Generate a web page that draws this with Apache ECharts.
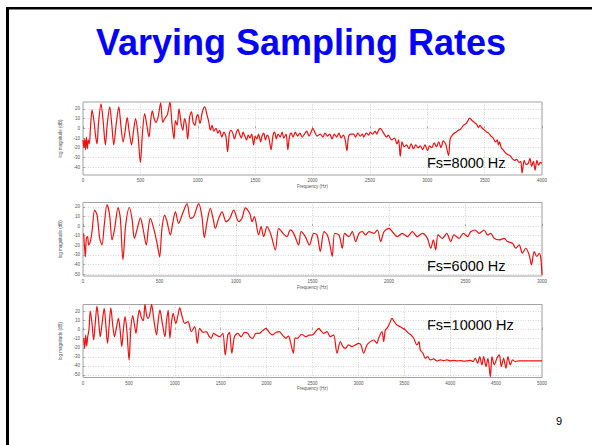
<!DOCTYPE html>
<html>
<head>
<meta charset="utf-8">
<script src="https://cdn.jsdelivr.net/npm/echarts@6/dist/echarts.min.js"></script>
<style>
html,body{margin:0;padding:0;background:#fff;}
#chart{width:592px;height:445px;}
</style>
</head>
<body>
<div id="chart"></div>
<script>
// ---- data: [frequency Hz, log magnitude dB] ----
var spec8000 = [[0,-12],[8,-20],[15,-11],[22,-22],[30,-9],[38,-21],[46,-12],[55,-16],[65,0],[79,19],[95,8],[110,-8],[122,-16],[135,5],[157,25],[175,8],[195,-17],[212,5],[233,22],[250,5],[268,-17],[290,5],[312,22],[330,3],[350,-14],[368,-2],[385,11],[402,-3],[423,-17],[440,-3],[458,10],[478,-5],[500,-35],[518,-5],[537,15],[555,4],[575,-9],[590,8],[604,18],[620,10],[636,6],[655,12],[677,26],[695,6],[712,10],[735,14],[758,27],[775,5],[793,-11],[805,8],[820,3],[837,20],[855,5],[870,-2],[885,10],[900,3],[912,-11],[930,12],[945,17],[960,6],[975,3],[990,12],[1000,14],[1020,5],[1040,17],[1061,22],[1080,14],[1095,7],[1110,-2],[1125,3],[1140,-3],[1160,0],[1175,-5],[1190,-2],[1210,-9],[1228,-4],[1245,-8],[1260,-24],[1275,-6],[1290,-2],[1305,-5],[1320,-11],[1335,-5],[1350,-1],[1365,-6],[1380,-10],[1395,-4],[1410,-8],[1425,-12],[1440,-7],[1455,-10],[1470,-6],[1487,-17],[1500,-8],[1515,-11],[1530,-6],[1548,-14],[1560,-8],[1575,-5],[1590,-12],[1605,-7],[1620,-10],[1639,-22],[1655,-8],[1670,-4],[1685,-11],[1700,-6],[1718,-9],[1735,-4],[1750,-10],[1770,-6],[1785,-22],[1800,-8],[1815,-5],[1830,-9],[1850,-4],[1870,-8],[1890,-5],[1910,-9],[1930,-6],[1950,-3],[1970,-8],[1990,-3],[2003,0],[2020,-4],[2040,-8],[2068,-6],[2090,-9],[2110,-5],[2130,-8],[2150,-6],[2170,-11],[2190,-6],[2210,-9],[2230,-5],[2250,-10],[2268,-7],[2285,-12],[2300,-23],[2315,-8],[2335,-6],[2358,-6],[2375,-9],[2395,-5],[2415,-8],[2435,-6],[2446,-9],[2470,-5],[2490,-7],[2504,-4],[2525,-6],[2545,-3],[2560,-6],[2575,-2],[2591,0],[2605,-2],[2620,-5],[2645,-9],[2660,-7],[2690,-12],[2715,-10],[2736,-16],[2750,-12],[2765,-29],[2780,-14],[2800,-19],[2820,-17],[2840,-21],[2860,-16],[2880,-21],[2900,-17],[2920,-20],[2940,-18],[2960,-22],[2980,-17],[3003,-23],[3020,-18],[3040,-20],[3060,-15],[3080,-19],[3100,-14],[3120,-20],[3140,-13],[3160,-16],[3186,-28],[3200,-11],[3225,-6],[3250,-4],[3270,-2],[3290,-1],[3315,3],[3340,5],[3355,8],[3370,10.5],[3390,8],[3410,6],[3430,4],[3445,1],[3460,3],[3480,0],[3500,-2],[3520,-4],[3535,-5],[3555,-8],[3575,-10],[3595,-14],[3610,-12],[3620,-17],[3630,-14],[3645,-20],[3660,-22],[3680,-25],[3700,-27],[3720,-28],[3740,-31],[3760,-33],[3780,-32],[3800,-35],[3815,-34],[3826,-46],[3845,-33],[3860,-37],[3880,-36],[3895,-31],[3910,-39],[3925,-34],[3940,-43],[3955,-33],[3970,-38],[3985,-35],[4000,-36]];

var spec6000 = [[4,-7.6],[9,-19.7],[15,-32],[22,-12.8],[30,-11],[37,-19.7],[48,-16],[59,-5.9],[76,16.5],[92,11.4],[109,-12.8],[124,-19.7],[139,1],[157,22.4],[174,11.4],[190,-14.5],[207,-2.4],[229,19.3],[244,8],[261,-35],[279,1],[303,19.3],[320,8],[336,-12.8],[355,-2.4],[375,8.6],[392,-2.4],[414,-19.7],[427,-2.4],[440,8],[462,-2.4],[484,-18],[501,-32],[516,-2.4],[534,11.4],[549,4.5],[571,-9.3],[586,2.8],[604,14.8],[625,2.8],[651,13.1],[680,23.4],[702,8],[723,9.7],[756,23.4],[776,11.4],[793,-12],[811,4.5],[832,18.3],[850,8],[865,-2.4],[887,8],[909,14.8],[935,4.5],[959,8],[985,16.5],[1018,4.5],[1039,8],[1061,19],[1090,13],[1105,4.5],[1120,9.7],[1148,-9.3],[1164,-0.7],[1181,-11],[1203,-0.7],[1229,-9.3],[1257,-24.8],[1279,-2.4],[1307,-7.6],[1333,-11],[1355,-4],[1377,-7.6],[1410,-19.7],[1425,-5.9],[1453,-11],[1480,-19.7],[1508,-7.6],[1530,-9.3],[1551,-26.5],[1575,-5.9],[1597,-9.3],[1614,-19.7],[1629,-31.7],[1645,-7.6],[1673,-9.3],[1695,-23.1],[1710,-7.6],[1738,-11],[1760,-5.9],[1782,-16.2],[1804,-7.6],[1826,-5.9],[1847,-9.3],[1869,-5.9],[1902,-7.6],[1924,-4.1],[1946,-16.2],[1967,-5.9],[2000,-2.4],[2022,-5.9],[2055,-11],[2087,-7.6],[2120,-11],[2153,-5.9],[2185,-11],[2218,-7.6],[2251,-12.8],[2273,-23.1],[2290,-14.5],[2305,-24.8],[2321,-9.3],[2349,-12.8],[2377,-7.6],[2404,-16.2],[2425,-9.3],[2458,-12.8],[2486,-7.6],[2513,-11],[2534,-5.9],[2561,-4.1],[2589,-7.6],[2622,-4.1],[2644,-9.3],[2665,-7.6],[2687,-12.8],[2720,-14.5],[2753,-12.8],[2774,-16.2],[2807,-17.9],[2829,-23.1],[2851,-19.7],[2872,-28.3],[2894,-23.1],[2916,-30],[2931,-40.3],[2949,-26.6],[2966,-31.7],[2982,-28.3],[2992,-33.4],[3000,-50.7]];

var spec10000 = [[7,-9.5],[18,-20.6],[29,-6],[40,-18],[51,-8],[65,0],[79,20.7],[97,8],[116,-11.4],[134,8],[152,26.3],[170,10],[188,-7.7],[209,8],[231,23.7],[249,5],[267,-15.1],[285,5],[303,24.4],[321,8],[343,-7.7],[365,3],[386,12.6],[404,0],[422,-18.7],[440,0],[458,14.5],[477,0],[502,-33.5],[520,0],[541,15.6],[560,6],[577,-4],[596,12],[614,21.8],[635,14],[657,10],[675,28.1],[693,16],[711,12.6],[729,18],[747,28.1],[773,10],[801,-5.8],[819,10],[838,21.8],[863,8],[892,-7.7],[910,10],[928,21.8],[946,-9.5],[964,8],[982,18.2],[1011,7.1],[1032,15],[1054,24.4],[1079,15],[1108,7.1],[1144,8.9],[1180,-2.1],[1217,3.4],[1245,-15.1],[1271,1.5],[1307,-3],[1343,-2.1],[1372,-7],[1397,-9.5],[1422,-4],[1451,-5.8],[1487,-7.7],[1523,-4],[1549,-28],[1578,-5.8],[1596,-3],[1621,-26.1],[1650,-7.7],[1686,-4],[1722,-7.7],[1758,-3],[1794,-4],[1820,-8],[1848,-9.5],[1884,-4],[1921,-4],[1957,-1],[1993,1.5],[2029,-3],[2065,-5.8],[2101,-3],[2137,-2.1],[2173,-6],[2209,-9.5],[2238,-7],[2263,-15.1],[2292,-26.1],[2310,-9],[2335,-9.5],[2382,-5],[2426,-7.7],[2462,-6],[2498,-5.8],[2534,-2],[2570,1.5],[2585,-0.3],[2621,-4],[2658,-2.1],[2694,-7.7],[2730,-5.8],[2767,-26.1],[2803,-13.2],[2832,-18.7],[2857,-20.6],[2894,-16.9],[2930,-18.7],[2966,-16.9],[3003,-15.1],[3028,-16.9],[3057,-26.1],[3093,-16.9],[3130,-13.2],[3166,-11.4],[3202,-15.1],[3220,-9.5],[3257,-2.1],[3275,-13.2],[3293,-0.3],[3311,1.5],[3340,7.1],[3366,12.6],[3391,8.9],[3420,5.2],[3456,3.4],[3486,1.5],[3511,-0.3],[3547,-4],[3573,-5.8],[3602,-9.5],[3638,-16.9],[3660,-13.2],[3674,-22.4],[3703,-26.1],[3729,-31.7],[3754,-29.8],[3783,-33.5],[3820,-32.4],[3856,-34.6],[3892,-33.5],[3928,-34.2],[3965,-33.5],[4001,-34.6],[4037,-33.9],[4074,-34.6],[4110,-34.2],[4146,-34.9],[4183,-34.6],[4219,-33.9],[4248,-35.4],[4273,-31.7],[4299,-37.2],[4321,-29.8],[4346,-39],[4364,-29.8],[4390,-40.9],[4411,-31.7],[4437,-52],[4455,-29.8],[4480,-39],[4509,-31.7],[4535,-28],[4557,-40.9],[4582,-31.7],[4607,-42.7],[4629,-29.8],[4655,-39],[4680,-33.5],[4709,-35.4],[4745,-34.6],[4836,-34.6],[5000,-34.6]];

var yTicks1 = [20,10,0,-10,-20,-30,-40];
var yTicks2 = [20,10,0,-10,-20,-30,-40,-50];
var yTicks3 = [20,10,0,-10,-20,-30,-40,-50];
var xMax = [4000,3000,5000];
var yRange = [[-48,27],[-52,24.5],[-53,28]];
var annotations = ['Fs=8000 Hz','Fs=6000 Hz','Fs=10000 Hz'];
var titleText = 'Varying Sampling Rates';
var pageNo = '9';
var xName = 'Frequency (Hz)';
var yName = 'log magnitude (dB)';

var chart = echarts.init(document.getElementById('chart'), null, {renderer:'svg'});
var grids = [
  {left:83, top:102, width:459, height:73},
  {left:83, top:202.5, width:459, height:73.5},
  {left:83, top:304.5, width:459, height:73}
];
var specs = [spec8000, spec6000, spec10000];
var yTicks = [yTicks1, yTicks2, yTicks3];
var small = {fontSize:4.5, color:'#555', fontFamily:'Liberation Sans, Arial, sans-serif'};
var split = {show:true, lineStyle:{color:'#c4c4c4', width:0.7, type:[1,1.5]}};

var option = {
  animation:false,
  backgroundColor:'#fff',
  grid: grids.map(function(g){ return Object.assign({show:true, borderColor:'#8c8c8c', borderWidth:0.8, backgroundColor:'#fff'}, g); }),
  xAxis: grids.map(function(g,i){ return {
    gridIndex:i, type:'value', min:0, max:xMax[i], interval:500,
    name:xName, nameLocation:'middle', nameGap:8, nameTextStyle:small,
    axisLine:{show:false}, axisTick:{show:true, inside:true, length:2, lineStyle:{color:'#777', width:0.6}},
    axisLabel:Object.assign({margin:3, showMinLabel:true, showMaxLabel:true, formatter:function(v){return String(v);}}, small),
    splitLine:split
  };}),
  yAxis: grids.map(function(g,i){ return {
    gridIndex:i, type:'value', min:yRange[i][0], max:yRange[i][1],
    name:yName, nameLocation:'middle', nameGap:11, nameTextStyle:small,
    axisLine:{show:false},
    axisTick:{show:true, inside:true, length:2, customValues:yTicks[i], lineStyle:{color:'#777', width:0.6}},
    axisLabel:Object.assign({margin:3, customValues:yTicks[i]}, small),
    splitLine:split
  };}),
  series: specs.map(function(d,i){ return {
    type:'line', xAxisIndex:i, yAxisIndex:i, data:d, showSymbol:false, clip:true,
    smooth:0.3,
    lineStyle:{color:'#ee1111', width:1.2}, silent:true
  };}),
  graphic: [
    {type:'rect', shape:{x:6, y:7, width:3, height:440}, style:{fill:'#000'}},
    {type:'rect', shape:{x:6, y:7, width:590, height:2.5}, style:{fill:'#000'}},
    {type:'text', x:301, y:42, style:{text:titleText, fill:'#0000ff', font:'bold 36px "Liberation Sans", Arial, sans-serif', textAlign:'center', textVerticalAlign:'middle'}},
    {type:'text', x:427, y:163, style:{text:annotations[0], fill:'#000', font:'14.5px "Liberation Sans", Arial, sans-serif', textAlign:'left', textVerticalAlign:'middle'}},
    {type:'text', x:427, y:265.5, style:{text:annotations[1], fill:'#000', font:'14.5px "Liberation Sans", Arial, sans-serif', textAlign:'left', textVerticalAlign:'middle'}},
    {type:'text', x:427, y:325, style:{text:annotations[2], fill:'#000', font:'14.5px "Liberation Sans", Arial, sans-serif', textAlign:'left', textVerticalAlign:'middle'}},
    {type:'text', x:559, y:421, style:{text:pageNo, fill:'#000', font:'11px "Liberation Sans", Arial, sans-serif', textAlign:'center', textVerticalAlign:'middle'}}
  ]
};
chart.setOption(option);
</script>
</body>
</html>
